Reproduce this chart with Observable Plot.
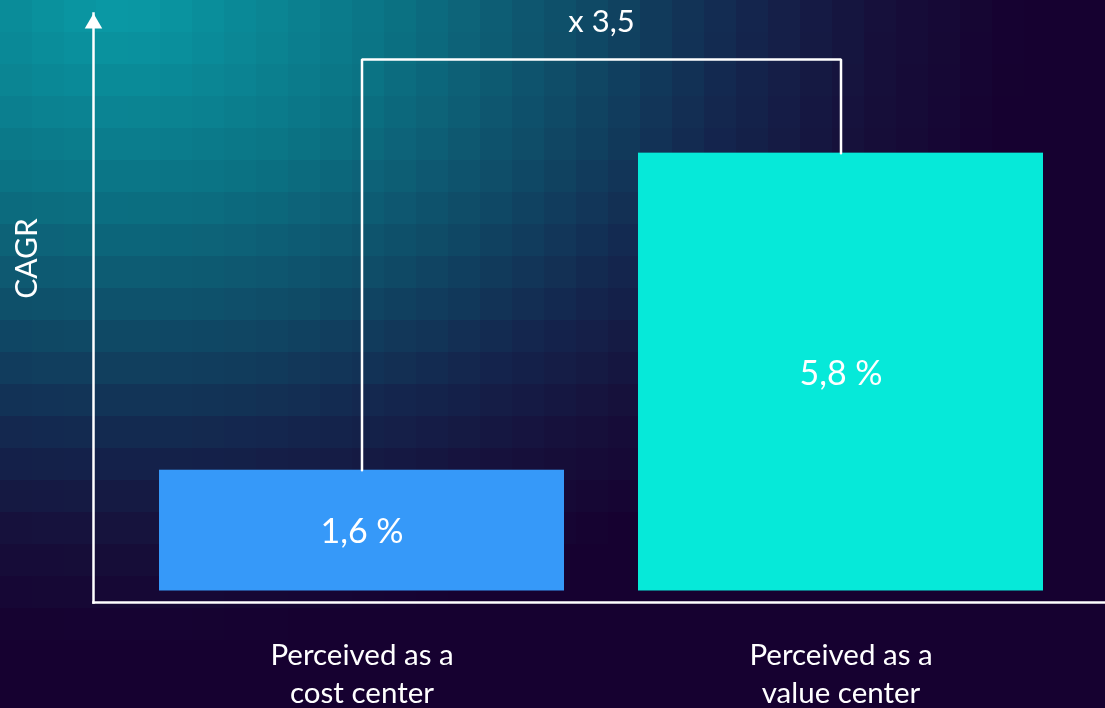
<!DOCTYPE html>
<html>
<head>
<meta charset="utf-8">
<script src="https://cdn.jsdelivr.net/npm/d3@7"></script>
<script src="https://cdn.jsdelivr.net/npm/@observablehq/plot@0.6"></script>
<style>
  html, body { margin: 0; padding: 0; width: 1105px; height: 708px; overflow: hidden; background: #160130; }
  #bg { position: absolute; left: 0; top: 0; width: 1120px; height: 736px; image-rendering: pixelated; }
  #chart { position: absolute; left: 0; top: 0; }
</style>
</head>
<body>
<canvas id="bg"></canvas>
<div id="chart"></div>
<script>
// ---- data ----
const categories = ["Perceived as a\ncost center", "Perceived as a\nvalue center"];
const cagr = [1.6, 5.8];
const multiplierLabel = ["x 3,5"];
const axisTitle = ["CAGR"];

// ---- pixelated background (decoration) ----
(function () {
  const tile = 32, cols = 35, rows = 23;
  const cv = document.getElementById("bg");
  cv.width = cols; cv.height = rows;
  const ctx = cv.getContext("2d");
  const stops = [
    [0.00, "#0a9ca7"],
    [0.30, "#0b7384"],
    [0.52, "#0f4a66"],
    [0.70, "#14254d"],
    [0.85, "#160f3a"],
    [1.00, "#160130"]
  ];
  const col = d3.scaleLinear().domain(stops.map(s => s[0])).range(stops.map(s => s[1])).interpolate(d3.interpolateRgb).clamp(true);
  for (let i = 0; i < cols; i++) {
    for (let j = 0; j < rows; j++) {
      const px = i * tile + tile / 2, py = j * tile + tile / 2;
      const dx = (px - 120) / 900, dy = py / 640;
      const t = Math.sqrt(dx * dx + dy * dy);
      ctx.fillStyle = col(t);
      ctx.fillRect(i, j, 1, 1);
    }
  }
})();

// ---- chart ----
const table = categories.map((c, i) => ({category: c, cagr: cagr[i]}));
const fmt = v => v.toFixed(1).replace(".", ",") + " %";
const bracketLevel = 7.04;
const bracket = [
  {category: categories[0], v: cagr[0]},
  {category: categories[0], v: bracketLevel},
  {category: categories[1], v: bracketLevel},
  {category: categories[1], v: cagr[1]}
];

const chart = Plot.plot({
  width: 1105,
  height: 708,
  marginLeft: 93,
  marginRight: 0,
  marginTop: 13,
  marginBottom: 106,
  x: {domain: categories, range: [84, 1118], padding: 0.1542, axis: null},
  y: {domain: [0, 7.65], range: [590.5, 13], axis: null},
  color: {domain: categories, range: ["#3699f9", "#06e9d9"]},
  style: {background: "transparent", color: "white", fontFamily: "Lato, 'Open Sans', sans-serif"},
  marks: [
    Plot.barY(table, {x: "category", y: "cagr", fill: "category"}),
    Plot.line(bracket, {x: "category", y: "v", stroke: "white", strokeWidth: 2.5, strokeLinejoin: "miter"}),
    Plot.frame({anchor: "left", stroke: "white", strokeWidth: 2.5}),
    Plot.frame({anchor: "bottom", stroke: "white", strokeWidth: 2.5}),
    Plot.dot([0], {frameAnchor: "top-left", symbol: "triangle", r: 6.5, fill: "white", stroke: "none", dy: 10}),
    Plot.text(table, {x: "category", y: d => d.cagr / 2, text: d => fmt(d.cagr), fill: "white", fontSize: 34, dy: 2}),
    Plot.text(table, {x: "category", frameAnchor: "bottom", text: "category", textAnchor: "middle", lineAnchor: "top", dy: 35, fontSize: 29.5, lineHeight: 1.3, fill: "white"}),
    Plot.text(multiplierLabel, {frameAnchor: "top", text: d => d, textAnchor: "middle", lineAnchor: "middle", dy: 9, dx: 2, fontSize: 31, fill: "white"}),
    Plot.text(axisTitle, {frameAnchor: "left", text: d => d, textAnchor: "middle", lineAnchor: "middle", rotate: -90, dx: -66, dy: -49.5, fontSize: 30, fill: "white"})
  ]
});
document.getElementById("chart").appendChild(chart);
</script>
</body>
</html>
